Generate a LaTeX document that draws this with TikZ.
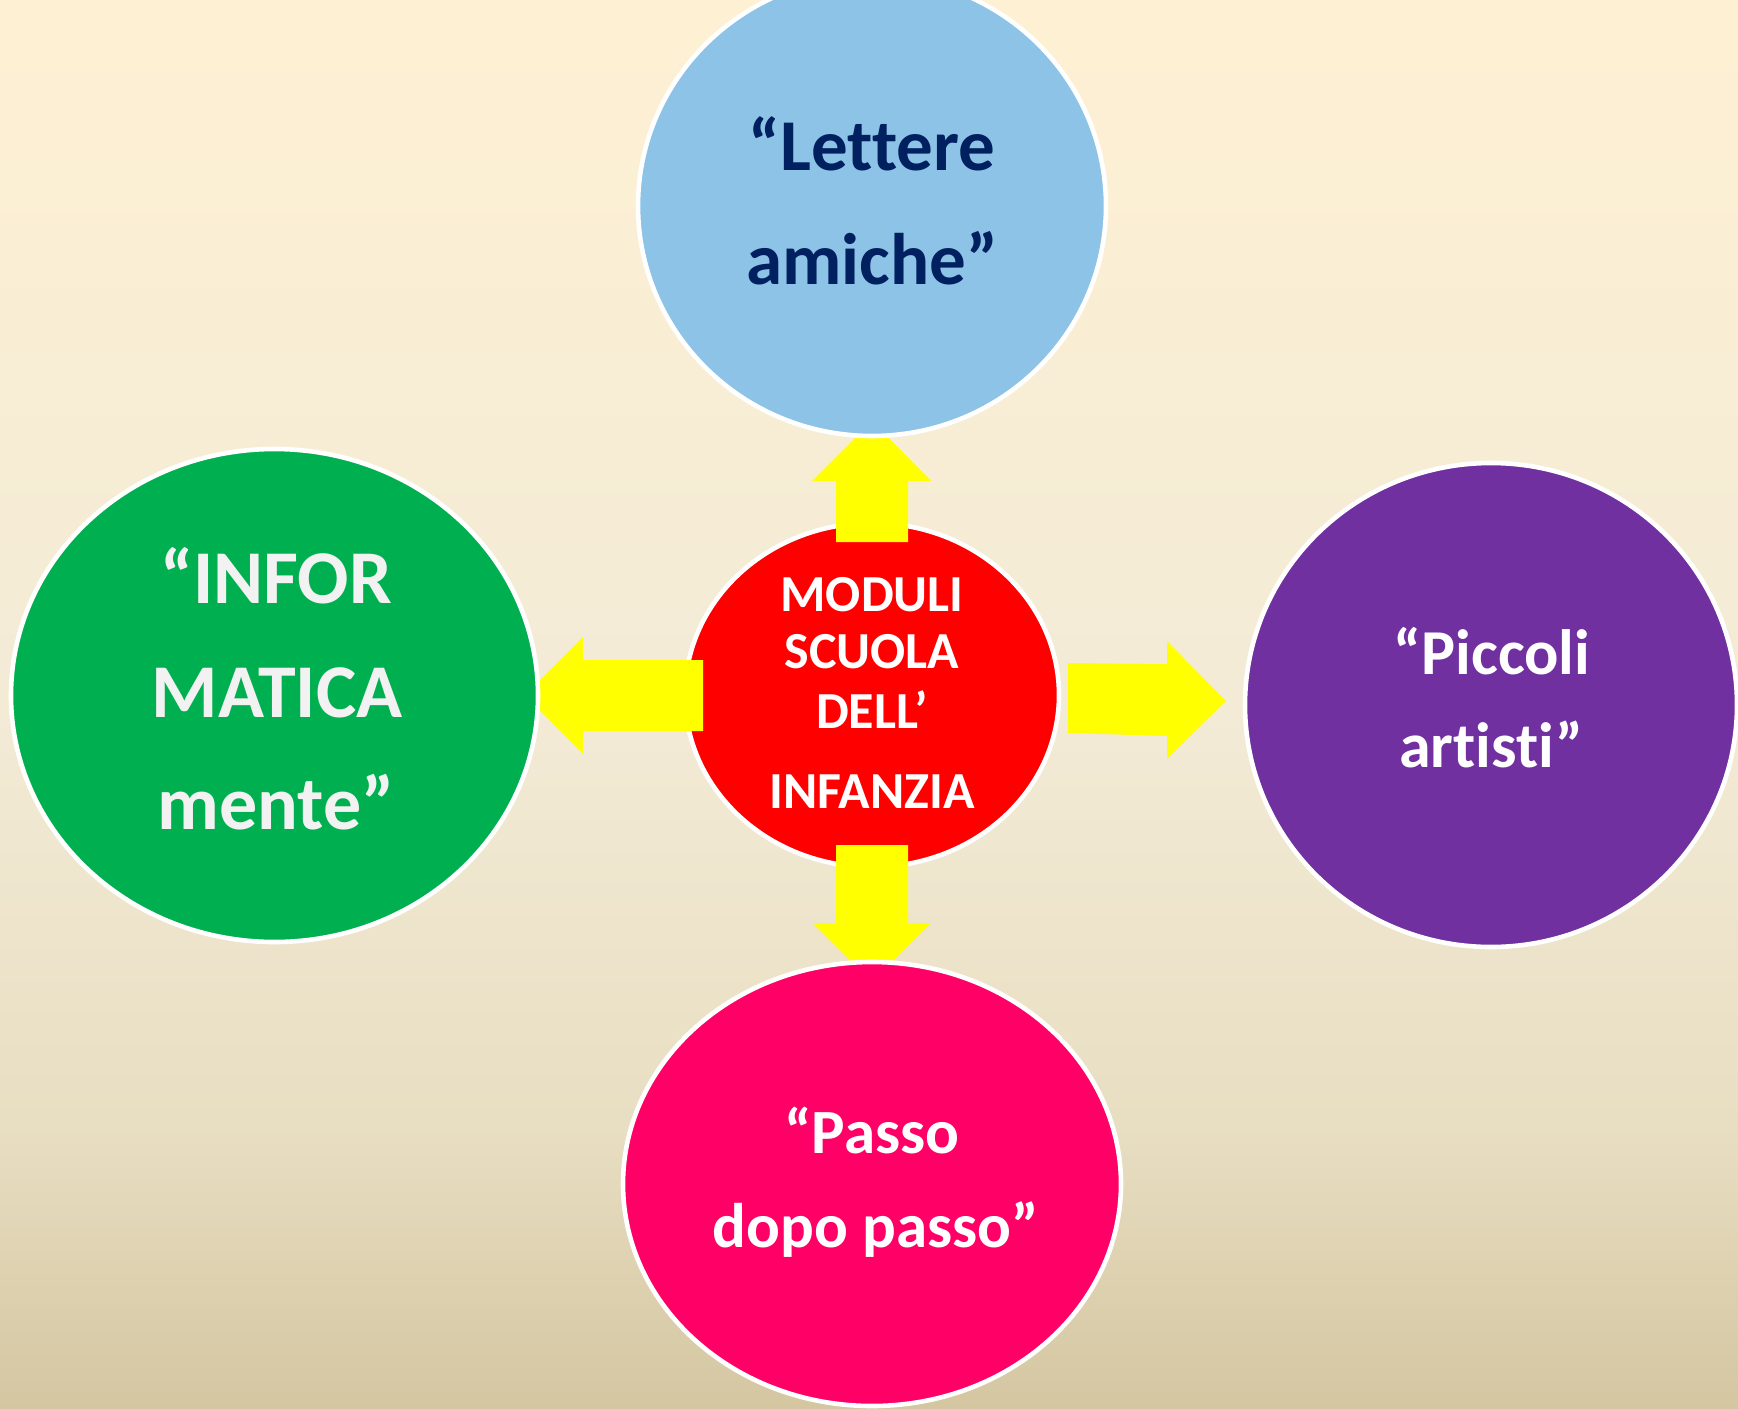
\documentclass[tikz,border=0pt]{standalone}
\usepackage{fontspec}
\setmainfont{Carlito}[Ligatures={NoCommon}]
\usetikzlibrary{shapes.geometric}
\definecolor{bgtop}{HTML}{FEF0D3}
\definecolor{bgmid}{HTML}{F3EBD6}
\definecolor{bglow}{HTML}{E8DEC2}
\definecolor{bgbot}{HTML}{D4C6A1}
\definecolor{cblue}{HTML}{8DC3E6}
\definecolor{cgreen}{HTML}{00B050}
\definecolor{cpurple}{HTML}{7030A0}
\definecolor{cpink}{HTML}{FF0066}
\definecolor{cred}{HTML}{FF0000}
\definecolor{navy}{HTML}{002060}
\definecolor{lgray}{HTML}{F2F2F2}
\definecolor{ayellow}{HTML}{FFFF00}
\pgfdeclareverticalshading{bgshade}{100bp}{color(0bp)=(bgbot); color(25bp)=(bgbot); color(35bp)=(bglow); color(50bp)=(bgmid); color(75bp)=(bgtop); color(100bp)=(bgtop)}
\tikzset{
  bubble/.style={ellipse, draw=white, line width=2.3pt, inner sep=0pt},
  blockarrow/.style={fill=ayellow, draw=none},
  lbl/.style={anchor=base, inner sep=0pt, font=\bfseries},
}
\begin{document}
\begin{tikzpicture}[x=0.5pt, y=-0.5pt]
\useasboundingbox (0,0) rectangle (1738,1408);
\fill[shading=bgshade] (0,0) rectangle (1738,1408);

% central node
\node[bubble, fill=cred, minimum width=187pt, minimum height=172pt] (center) at (872,695) {};

% block arrows
\fill[blockarrow] (836,542) -- (836,481) -- (812,481) -- (872,421) -- (931,481) -- (908,481) -- (908,542) -- cycle;
\fill[blockarrow] (836,845) -- (836,923) -- (813,923) -- (872,982) -- (931,923) -- (908,923) -- (908,845) -- cycle;
\fill[blockarrow] (703,660) -- (583,660) -- (583,637) -- (525,695) -- (583,754) -- (583,731) -- (703,731) -- cycle;
\fill[blockarrow] (1068,663) -- (1167,664) -- (1167,641) -- (1226,701) -- (1167,759) -- (1167,736) -- (1068,733) -- cycle;

% outer nodes
\node[bubble, fill=cblue, minimum width=234pt, minimum height=230pt] (top) at (872,206) {};
\node[bubble, fill=cgreen, minimum width=263.5pt, minimum height=246.5pt] (left) at (274.5,695.5) {};
\node[bubble, fill=cpurple, minimum width=246pt, minimum height=242pt] (right) at (1491,705) {};
\node[bubble, fill=cpink, minimum width=249pt, minimum height=222pt] (bottom) at (872,1184) {};

% texts
\begin{scope}[every node/.style={lbl}]
\node[text=navy, font=\bfseries\fontsize{36.5}{40}\selectfont] (t1) at (872,170) {“Lettere};
\node[text=navy, font=\bfseries\fontsize{36.5}{40}\selectfont] (t2) at (872,284) {amiche”};

\node[text=white, font=\bfseries\fontsize{26}{28}\selectfont] (c1) at (872,611) {MODULI};
\node[text=white, font=\bfseries\fontsize{26}{28}\selectfont] (c2) at (872,668) {SCUOLA};
\node[text=white, font=\bfseries\fontsize{26}{28}\selectfont] (c3) at (872,728) {DELL’};
\node[text=white, font=\bfseries\fontsize{26}{28}\selectfont] (c4) at (872,808) {INFANZIA};

\node[text=lgray, font=\bfseries\fontsize{38}{42}\selectfont] (g1) at (276,603) {“INFOR};
\node[text=lgray, font=\bfseries\fontsize{38}{42}\selectfont] (g2) at (277,717) {MATICA};
\node[text=lgray, font=\bfseries\fontsize{38}{42}\selectfont] (g3) at (276,829) {mente”};

\node[text=white, font=\bfseries\fontsize{32}{36}\selectfont] (p1) at (1492,674) {“Piccoli};
\node[text=white, font=\bfseries\fontsize{32}{36}\selectfont] (p2) at (1491,767) {artisti”};

\node[text=white, font=\bfseries\fontsize{31.5}{34}\selectfont] (k1) at (872,1153) {“Passo};
\node[text=white, font=\bfseries\fontsize{31.5}{34}\selectfont] (k2) at (876,1247) {dopo passo”};
\end{scope}
\end{tikzpicture}
\end{document}
